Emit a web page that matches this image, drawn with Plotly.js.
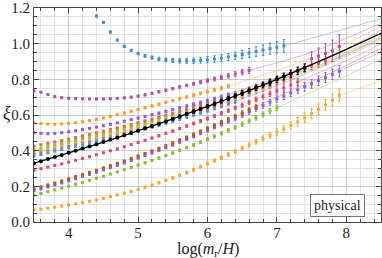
<!DOCTYPE html>
<html><head><meta charset="utf-8">
<script src="https://cdn.plot.ly/plotly-3.0.1.min.js"></script>
<style>html,body{margin:0;padding:0;background:#fff}#c{width:382px;height:258px}</style>
</head><body><div id="c"></div>
<script>
// shared x grid log(m_r/H)
const xs = [3.5,3.6,3.7,3.8,3.9,4.0,4.1,4.2,4.3,4.4,4.5,4.6,4.7,4.8,4.9,5.0,5.1,5.2,5.3,5.4,5.5,5.6,5.7,5.8,5.9,6.0,6.1,6.2,6.3,6.4,6.5,6.6,6.7,6.8,6.9,7.0,7.1,7.2,7.3,7.4,7.5,7.6,7.7,7.8,7.9];

// series values (xi)
const blY = [1.155,1.12,1.065,1.02,.985,.962,.945,.932,.922,.914,.909,.906,.904,.904,.905,.907,.910,.914,.919,.925,.932,.940,.948,.956,.964,.972,.980,.988];
const blErr = [.004,.004,.005,.005,.006,.006,.007,.008,.009,.010,.011,.012,.013,.014,.015,.016,.017,.018,.019,.020,.021,.023,.025,.027,.029,.031,.033,.035];
const mY = [.735,.728,.715,.703,.697,.694,.692,.691,.690,.690,.690,.691,.693,.696,.700,.706,.713,.721,.730,.739,.748,.757,.766,.775,.784,.793,.802,.811,.820,.830,.840,.850,null,null,null,null,null,null,null,null,.915,.93,.945,.96,.985];
const mErr = [.003,.003,.003,.003,.003,.003,.003,.003,.003,.003,.003,.003,.004,.004,.004,.004,.005,.005,.005,.006,.006,.007,.007,.008,.009,.010,.011,.012,.013,.014,.015,.016,0,0,0,0,0,0,0,0,.04,.045,.055,.06,.065];
const o1Y = [.557,.552,.549,.548,.550,.553,.557,.562,.568,.575,.583,.592,.601,.611,.621,.631,.641,.651,.661,.671,.681,.691,.701,.711,.721,.731,.741,.751,.762];
const p1Y = [.500,.497,.495,.497,.501,.506,.512,.518,.525,.532,.540,.548,.556,.565,.574,.583,.592,.601,.610,.620,.630,.640,.650,.660,.670,.680,.691,.702,.713];
const c1Y = [.425,.433,.441,.449,.457,.465,.474,.483,.492,.501,.510,.519,.528,.537,.547,.557,.567,.577,.587,.598,.609,.620,.631,.643,.655,.668,.681,.694,.707,.720,.733,.746,.759,.773,.787,.801,.815,.830,.845,.860,.875,.890,.905];
const c2Y = [.405,.414,.423,.432,.441,.450,.459,.468,.477,.486,.495,.505,.515,.525,.535,.545,.555,.566,.577,.588,.599,.610,.621,.633,.645,.657,.669,.682,.695,.708,.721];
const c3Y = [.395,.404,.413,.422,.431,.440,.449,.458,.467,.476,.485,.495,.505,.515,.525,.535,.545,.556,.567,.578,.589,.600,.611,.623,.635,.647,.660,.673,.686,.699,.713,.727,.741,.755];
const c4Y = [.385,.394,.403,.412,.421,.430,.439,.448,.457,.466,.475,.485,.495,.505,.515,.525,.535,.546,.557,.568,.579,.590,.601,.613,.625,.637,.650,.663,.676,.690,.704,.718,.732,.747,.762,.777,.792,.808];
const c5Y = [.370,.379,.388,.397,.406,.415,.424,.433,.442,.451,.461,.471,.481,.491,.501,.511,.521,.532,.543,.554,.565,.576,.588,.600,.612,.624,.637,.650,.663,.676];
const kY = [.330,.341,.353,.364,.376,.388,.400,.412,.424,.436,.448,.461,.473,.486,.499,.512,.525,.538,.551,.564,.578,.592,.606,.620,.634,.648,.662,.677,.692,.707,.722,.737,.753,.768,.784,.800,.816,.832,.848,.865];
const kErr = [.002,.002,.002,.002,.003,.003,.003,.003,.003,.004,.004,.004,.004,.005,.005,.005,.006,.006,.006,.007,.007,.008,.008,.009,.009,.010,.010,.011,.012,.012,.013,.014,.015,.016,.017,.018,.019,.020,.021,.022];
const rY = [.290,.299,.308,.317,.326,.336,.346,.356,.366,.377,.388,.399,.410,.422,.434,.446,.458,.471,.484,.497,.510,.524,.538,.552,.566,.580,.595,.610,.625,.640,.655,.671,.687,.703,.719,.735,.751,.768,.785];
const b2Y = [.186,.197,.208,.219,.230,.242,.254,.266,.278,.290,.303,.316,.329,.342,.356,.370,.384,.398,.413,.428,.443,.459,.475,.491,.508,.525,.542,.559,.576,.593,.611,.629,.647];
const p2Y = [.175,.186,.197,.208,.219,.231,.243,.255,.267,.279,.292,.305,.318,.331,.345,.359,.373,.387,.402,.417,.432,.448,.464,.480,.497,.514,.531,.548,.565,.582,.600,.618,.636,.654,.672,.690,.707,.724,.741,.758,.775,.792,.810,.828,.846];
const p2Err = [.002,.002,.002,.002,.002,.003,.003,.003,.003,.003,.003,.004,.004,.004,.004,.005,.005,.005,.006,.006,.006,.007,.007,.008,.008,.009,.009,.010,.011,.012,.013,.014,.015,.016,.017,.018,.020,.021,.022,.024,.025,.027,.028,.030,.032];
const g2Y = [.150,.160,.170,.180,.190,.201,.212,.223,.234,.245,.257,.269,.281,.293,.306,.319,.332,.345,.359,.373,.387,.402,.417,.432,.448,.464,.480,.497,.514,.531,.548,.566,.584,.603,.622,.641];
const o2Y = [.067,.072,.077,.083,.089,.095,.102,.109,.116,.124,.133,.142,.152,.162,.172,.183,.195,.207,.220,.233,.247,.262,.277,.293,.310,.327,.344,.361,.378,.396,.414,.432,.450,.468,.486,.504,.522,.541,.562,.585,.608,.632,.657,.683,.710];
const o2Err = [.002,.002,.002,.002,.002,.003,.003,.003,.003,.003,.004,.004,.004,.004,.005,.005,.005,.006,.006,.006,.007,.007,.008,.008,.008,.009,.009,.010,.010,.011,.011,.012,.013,.014,.016,.018,.020,.022,.024,.026,.028,.030,.031,.033,.035];
const errSmall = [.002,.002,.002,.002,.002,.003,.003,.003,.003,.003,.003,.004,.004,.004,.004,.005,.005,.005,.006,.006,.006,.007,.007,.008,.008,.009,.009,.010,.010,.011,.012,.012,.013,.014,.015,.016,.017,.018,.019,.020,.021,.022,.024,.025,.027];

// fit curves (faint) and the black fit
const blLineX=[7.1,7.5,8.0,8.5], blLineY=[.988,1.03,1.085,1.14];
const mLineX=[6.6,7.0,7.5,8.0,8.5], mLineY=[.85,.893,.952,1.03,1.115];
const o1LineX=[6.3,7.0,7.5,8.0,8.5], o1LineY=[.762,.85,.92,1.0,1.095];
const p1LineX=[6.3,7.0,7.5,8.0,8.5], p1LineY=[.713,.81,.885,.97,1.075];
const c1LineX=[7.7,8.1,8.5], c1LineY=[.905,.97,1.045];
const c2LineX=[6.5,7.0,7.5,8.0,8.5], c2LineY=[.721,.79,.865,.945,1.035];
const c3LineX=[6.8,7.5,8.0,8.5], c3LineY=[.755,.86,.94,1.03];
const c4LineX=[7.2,7.6,8.0,8.5], c4LineY=[.808,.87,.94,1.03];
const c5LineX=[6.4,7.0,7.5,8.0,8.5], c5LineY=[.676,.765,.845,.93,1.02];
const rLineX=[7.3,7.8,8.2,8.5], rLineY=[.785,.87,.94,1.0];
const b2LineX=[6.7,7.2,7.8,8.5], b2LineY=[.647,.735,.84,.975];
const p2LineX=[7.9,8.2,8.5], p2LineY=[.846,.9,.955];
const g2LineX=[7.0,7.5,8.0,8.5], g2LineY=[.641,.73,.82,.915];
const o2LineX=[7.9,8.2,8.5], o2LineY=[.71,.75,.795];
const kLineX=[3.5,4,4.5,5,5.5,6,6.5,7,7.5,8,8.5], kLineY=[.33,.388,.448,.512,.578,.648,.722,.80,.882,.968,1.058];

const C = {bl:'#3a8dd0', m:'#b8509a', o1:'#ff9a26', p1:'#8a5cf2', c1:'#f2683a', c2:'#8cc43e', c3:'#f2b634', c4:'#e8607e', c5:'#3aa3dc', k:'#000000', r:'#e04a62', b2:'#b65a1e', p2:'#8a5cf2', g2:'#84be3a', o2:'#ffa42c'};

const traces = [];
function fit(x, y, col){ traces.push({x:x, y:y, mode:'lines', type:'scatter', line:{color:col, width:1, shape:'spline'}, opacity:0.4, hoverinfo:'skip'}); }
function pts(x, y, err, col, sym, sz){ traces.push({x:x, y:y, mode:'markers', type:'scatter', marker:{color:col, symbol:sym||'square', size:sz||3}, error_y:{type:'data', array:err, visible:true, color:col, thickness:1, width:1.2}}); }

fit(blLineX, blLineY, C.bl); fit(mLineX, mLineY, C.m); fit(o1LineX, o1LineY, C.o1); fit(p1LineX, p1LineY, C.p1);
fit(c1LineX, c1LineY, C.c1); fit(c2LineX, c2LineY, C.c2); fit(c3LineX, c3LineY, C.c3); fit(c4LineX, c4LineY, C.c4); fit(c5LineX, c5LineY, C.c5);
fit(rLineX, rLineY, C.r); fit(b2LineX, b2LineY, C.b2); fit(p2LineX, p2LineY, C.p2); fit(g2LineX, g2LineY, C.g2); fit(o2LineX, o2LineY, C.o2);

pts(xs.slice(0,45), o2Y, o2Err, C.o2);
pts(xs.slice(0,36), g2Y, errSmall.slice(0,36), C.g2);
pts(xs.slice(0,45), p2Y, p2Err, C.p2);
pts(xs.slice(0,33), b2Y, errSmall.slice(0,33), C.b2);
pts(xs.slice(0,39), rY, errSmall.slice(0,39), C.r);
pts(xs.slice(0,30), c5Y, errSmall.slice(0,30), C.c5);
pts(xs.slice(0,38), c4Y, errSmall.slice(0,38), C.c4);
pts(xs.slice(0,34), c3Y, errSmall.slice(0,34), C.c3);
pts(xs.slice(0,31), c2Y, errSmall.slice(0,31), C.c2);
pts(xs.slice(0,43), c1Y, errSmall.slice(0,43), C.c1);
pts(xs.slice(0,29), p1Y, errSmall.slice(0,29), C.p1);
pts(xs.slice(0,29), o1Y, errSmall.slice(0,29), C.o1);
pts(xs.slice(0,45), mY, mErr, C.m);
pts(xs.slice(9,37), blY, blErr, C.bl);
pts(xs.slice(0,40), kY, kErr, C.k, 'circle', 4);
traces.push({x:kLineX, y:kLineY, mode:'lines', type:'scatter', line:{color:'#000', width:1.3, shape:'spline'}, hoverinfo:'skip'});

const serif = 'Liberation Serif';
const axBase = {showline:true, linecolor:'#444', linewidth:1, mirror:'allticks', ticks:'inside', ticklen:5, tickcolor:'#444', zeroline:false, showgrid:true, gridcolor:'#c9c9c9', gridwidth:1, tickfont:{family:serif, size:15, color:'#222'}};
const layout = {
  width:382, height:258, margin:{l:34, r:1, t:8, b:36}, paper_bgcolor:'#fff', plot_bgcolor:'#fff', showlegend:false,
  font:{family:serif},
  xaxis: Object.assign({}, axBase, {range:[3.5,8.5], tickvals:[4,5,6,7,8], ticklabelstandoff:-3, minor:{dtick:0.2, tick0:0, ticklen:3, ticks:'inside', tickcolor:'#444', showgrid:true, gridcolor:'#e3e3e3'}}),
  yaxis: Object.assign({}, axBase, {range:[0,1.2], dtick:0.2, tick0:0, tickformat:'.1f', minor:{dtick:0.05, tick0:0, ticklen:3, ticks:'inside', tickcolor:'#444', showgrid:true, gridcolor:'#e3e3e3'}}),
  annotations:[
    {xref:'paper', yref:'paper', x:-0.078, y:0.509, text:'<i>ξ</i>', showarrow:false, font:{family:serif, size:18, color:'#222'}, xanchor:'center', yanchor:'middle'},
    {xref:'paper', yref:'paper', x:0.5, y:-0.128, text:'log(<i>m</i><sub>r</sub>/<i>H</i>)', showarrow:false, font:{family:serif, size:16, color:'#222'}, xanchor:'center', yanchor:'middle'},
    {xref:'paper', yref:'paper', x:0.876, y:0.079, text:'physical', showarrow:false, font:{family:serif, size:14, color:'#222'}, xanchor:'center', yanchor:'middle', bgcolor:'#fff', bordercolor:'#777', borderwidth:1, borderpad:3}
  ]
};
Plotly.newPlot('c', traces, layout, {staticPlot:true, displayModeBar:false});
</script></body></html>
